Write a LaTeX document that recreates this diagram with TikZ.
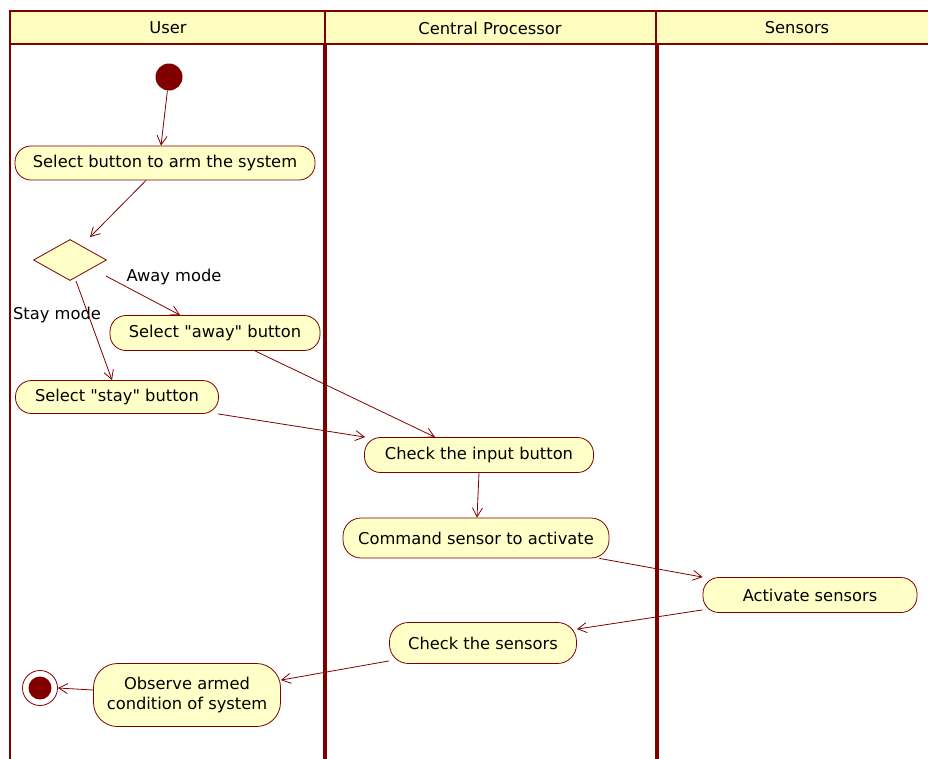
\documentclass[tikz,border=0pt]{standalone}
\usepackage{fontspec}
\setmainfont{DejaVu Sans}
\usetikzlibrary{arrows.meta,shapes.geometric,calc}
\definecolor{dred}{HTML}{800000}
\definecolor{headfill}{HTML}{FFFCC0}
\definecolor{actfill}{HTML}{FFFFC8}
\begin{document}
\begin{tikzpicture}[x=1pt,y=1pt,
  txt/.style={font=\fontsize{16.3}{19}\selectfont, text=black},
  activity/.style={txt, draw=dred, fill=actfill, line width=0.8pt,
    rounded corners=16pt, inner sep=0pt, align=center},
  flow/.style={draw=dred, line width=0.8pt, -{Straight Barb[length=9pt,width=10pt]}},
  lanehead/.style={txt, anchor=center},
  thin border/.style={draw=dred, line width=1.6pt},
  lane divider/.style={draw=dred, line width=4pt}
]
\useasboundingbox (0,0) rectangle (928,-758);
\fill[white] (0,0) rectangle (928,-758);

% swimlane header band and lane borders
\path[thin border, fill=headfill] (10,-11) rectangle (940,-44);
\draw[thin border] (10,-11) -- (10,-760);
\draw[thin border] (325,-11) -- (325,-44);
\draw[thin border] (656,-11) -- (656,-44);
\draw[lane divider] (325,-44) -- (325,-760);
\draw[lane divider] (657,-44) -- (657,-760);

\node[lanehead] (hUser) at (168,-28) {User};
\node[lanehead] (hCP) at (490,-28) {Central Processor};
\node[lanehead] (hSens) at (797,-28) {Sensors};

% initial and final states
\node[circle, fill=dred, minimum size=27pt, inner sep=0pt] (start) at (169,-77) {};
\node[circle, draw=dred, line width=0.8pt, fill=white, minimum size=35pt, inner sep=0pt] (stop) at (40,-688) {};
\node[circle, fill=dred, minimum size=23pt, inner sep=0pt] (stopdot) at (stop) {};

% activities
\node[activity, minimum width=300pt, minimum height=34pt] (arm) at (165,-163) {Select button to arm the system};
\node[diamond, draw=dred, fill=actfill, line width=0.8pt, minimum width=73pt, minimum height=41pt, inner sep=0pt] (mode) at (70,-260) {};
\node[activity, minimum width=210pt, minimum height=35pt] (away) at (215,-333) {Select \textquotedbl away\textquotedbl\ button};
\node[activity, minimum width=203pt, minimum height=33pt] (stay) at (117,-397) {Select \textquotedbl stay\textquotedbl\ button};
\node[activity, minimum width=229pt, minimum height=35pt] (check) at (479,-455) {Check the input button};
\node[activity, minimum width=266pt, minimum height=40pt, rounded corners=18pt] (command) at (476,-538) {Command sensor to activate};
\node[activity, minimum width=214pt, minimum height=35pt] (activate) at (810,-595) {Activate sensors};
\node[activity, minimum width=187pt, minimum height=41pt, rounded corners=19pt] (checks) at (483,-643) {Check the sensors};
\node[activity, minimum width=187pt, minimum height=63pt, rounded corners=24pt] (observe) at (187,-695) {Observe armed\\[1pt]condition of system};

% guard labels
\node[txt] (awaylbl) at (174,-277) {Away mode};
\node[txt] (staylbl) at (57,-315) {Stay mode};

% control flows
\draw[flow] (start) -- ([xshift=-4pt]arm.north);
\draw[flow] ([xshift=-19pt]arm.south) -- ([shift={(20pt,2pt)}]mode.north);
\draw[flow] ([shift={(-1pt,-16pt)}]mode.east) -- ([xshift=-35pt]away.north);
\draw[flow] ([xshift=6pt]mode.south) -- ([xshift=-5pt]stay.north);
\draw[flow] ([xshift=40pt]away.south) -- ([xshift=-44pt]check.north);
\draw[flow] ([xshift=-1pt]stay.south east) -- ([xshift=1pt]check.north west);
\draw[flow] ([xshift=0pt]check.south) -- ([xshift=1pt]command.north);
\draw[flow] ([xshift=-10pt]command.south east) -- (activate.north west);
\draw[flow] ([yshift=3pt]activate.south west) -- ([yshift=-7pt]checks.north east);
\draw[flow] ([yshift=3pt]checks.south west) -- ([yshift=-17pt]observe.north east);
\draw[flow] ([yshift=5pt]observe.west) -- (stop.east);
\end{tikzpicture}
\end{document}
